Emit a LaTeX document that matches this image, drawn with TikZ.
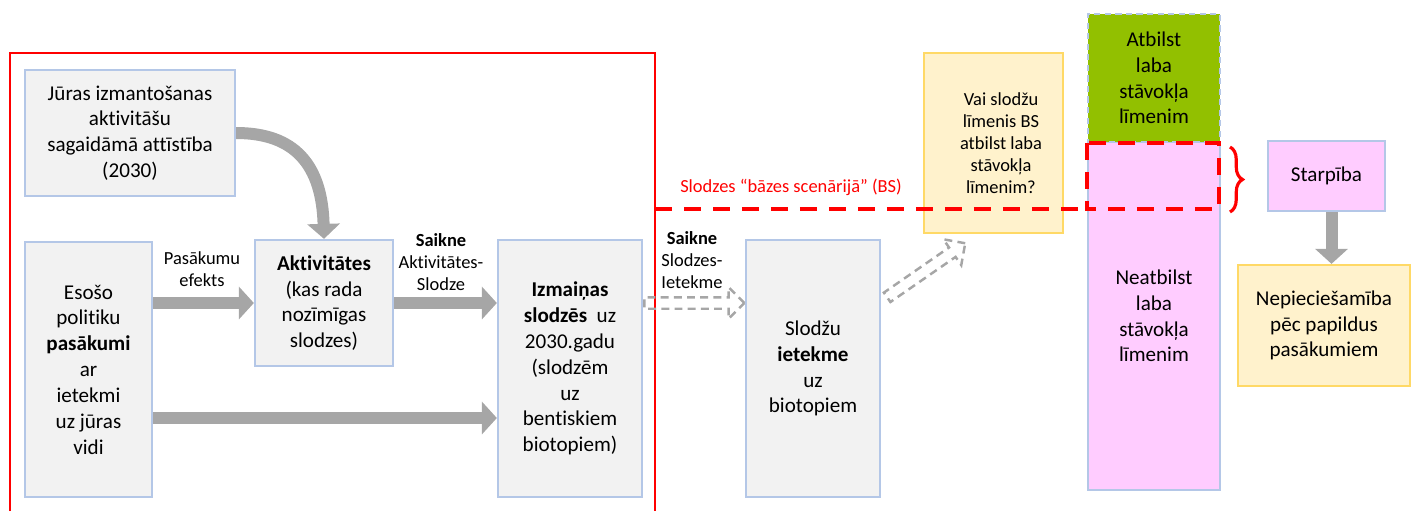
\documentclass[tikz,border=0pt]{standalone}
\usepackage{fontspec}
\setmainfont[Ligatures=NoCommon]{Carlito}
\usetikzlibrary{arrows.meta,shapes.arrows,decorations.pathreplacing}

\definecolor{boxline}{HTML}{B4C7E7}
\definecolor{boxfill}{HTML}{F2F2F2}
\definecolor{arrowgray}{HTML}{A6A6A6}
\definecolor{noteyellow}{HTML}{FFF2CC}
\definecolor{noteline}{HTML}{FFD966}
\definecolor{goodgreen}{HTML}{92C000}
\definecolor{badpink}{HTML}{FFCCFF}
\definecolor{framered}{HTML}{FF0000}

\newcommand{\bigtxt}{\fontsize{12}{14.7}\selectfont}
\newcommand{\smalltxt}{\fontsize{10.5}{12.6}\selectfont}

\begin{document}
\begin{tikzpicture}[x=0.02cm,y=-0.02cm,
  box/.style={draw=boxline,fill=boxfill,line width=1.3pt,align=center,inner sep=0pt,font=\bigtxt},
  note/.style={box,draw=noteline,fill=noteyellow},
  goodbox/.style={box,fill=goodgreen,dash pattern=on 3.5pt off 2.5pt},
  pinkbox/.style={box,fill=badpink},
  lbl/.style={align=center,inner sep=0pt,font=\smalltxt},
  bigarrow/.style={arrowgray,line width=0.24cm,-{Triangle[width=0.64cm,length=0.3cm]}},
  hollow/.style={single arrow,draw=arrowgray,line width=1.4pt,dash pattern=on 4.5pt off 3pt,
    inner sep=0.09cm,minimum width=0.58cm,single arrow head extend=0.2cm},
  reddash/.style={framered,line width=2.3pt,dash pattern=on 0.34cm off 0.24cm}]

\useasboundingbox (0,0) rectangle (1412,511);

% ---- Red frame (existing measures) ----
\draw[framered,line width=1.4pt] (10,511) |- (655,53) -- (655,511);

% ---- Boxes ----
\node[box,minimum width=4.2cm,minimum height=2.52cm] (jura) at (130,133)
  {Jūras izmantošanas\\aktivitāšu\\sagaidāmā attīstība\\(2030)};
\node[box,minimum width=2.54cm,minimum height=5.1cm] (pasak) at (88.5,369.5)
  {Esošo\\politiku\\\textbf{pasākumi}\\ar\\ietekmi\\uz jūras\\vidi};
\node[box,minimum width=2.76cm,minimum height=2.52cm] (aktiv) at (324,303)
  {\textbf{Aktivitātes}\\(kas rada\\nozīmīgas\\slodzes)};
\node[box,minimum width=2.88cm,minimum height=5.14cm] (izmain) at (570,368.5)
  {\textbf{Izmaiņas}\\\textbf{slodzēs}\ \ uz\\2030.gadu\\(slodzēm\\uz\\bentiskiem\\biotopiem)};
\node[box,minimum width=2.68cm,minimum height=5.14cm] (ietekme) at (813,368.5)
  {Slodžu\\\textbf{ietekme}\\uz\\biotopiem};
\node[note,minimum width=2.78cm,minimum height=3.6cm,font=\smalltxt] (vai) at (993.5,143)
  {\hspace{0.3cm}Vai slodžu\\\hspace{0.3cm}līmenis BS\\\hspace{0.3cm}atbilst laba\\\hspace{0.3cm}stāvokļa\\\hspace{0.3cm}līmenim?};

% status column
\node[pinkbox,minimum width=2.64cm,minimum height=6.96cm] (neatb) at (1154,316)
  {Neatbilst\\laba\\stāvokļa\\līmenim};
\node[goodbox,minimum width=2.64cm,minimum height=2.56cm] (atbilst) at (1154,78)
  {Atbilst\\laba\\stāvokļa\\līmenim};

\node[pinkbox,minimum width=2.34cm,minimum height=1.4cm] (starp) at (1326.5,176) {Starpība};
\node[note,minimum width=3.44cm,minimum height=2.42cm] (nepiec) at (1324,325.5)
  {Nepieciešamība\\pēc papildus\\pasākumiem};

% ---- Arrows ----
\draw[bigarrow] (jura.east) .. controls (295,133) and (322,165) .. (aktiv.north);
\draw[bigarrow] (pasak.east |- aktiv.west) -- (aktiv.west);
\draw[bigarrow] (aktiv.east) -- (izmain.west |- aktiv.east);
\coordinate (lowrow) at (0,418);
\draw[bigarrow] (pasak.east |- lowrow) -- (izmain.west |- lowrow);
\draw[bigarrow] ([xshift=0.1cm]starp.south) -- ([xshift=0.1cm]starp.south |- nepiec.north);

% dashed links
\node[hollow,minimum height=2.0cm,anchor=tail] (link1) at (izmain.east |- aktiv.east) {};
\node[hollow,minimum height=1.9cm,rotate=34.7,anchor=tail] (link2)
  at ([xshift=0.1cm,yshift=1.41cm]ietekme.east) {};

% ---- Labels ----
\node[lbl] (efekts) at (202,269) {Pasākumu\\efekts};
\node[lbl] (saikne1) at (441,262) {\textbf{Saikne}\\Aktivitātes-\\Slodze};
\node[lbl] (saikne2) at (692,260) {\textbf{Saikne}\\Slodzes-\\Ietekme};

% ---- Base scenario ----
\coordinate (bs) at (655,209);
\draw[reddash] (bs) -- (atbilst.west |- bs);
\draw[reddash] (atbilst.south west) rectangle ([xshift=-0.04cm]atbilst.east |- bs);
\node[lbl,text=framered] (bslabel) at (791,187) {Slodzes “bāzes scenārijā” (BS)};
\draw[framered,line width=1.8pt,decorate,decoration={brace,amplitude=0.25cm}]
  (1230,147) -- (1230,212);

\end{tikzpicture}
\end{document}
